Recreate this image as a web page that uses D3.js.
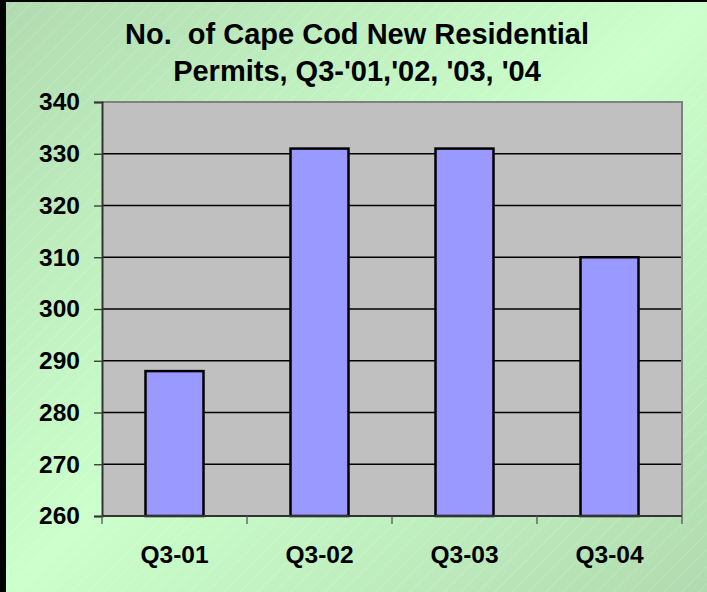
<!DOCTYPE html>
<html>
<head>
<meta charset="utf-8">
<script src="https://cdn.jsdelivr.net/npm/d3@7"></script>
<style>
  html, body { margin: 0; padding: 0; overflow: hidden; }
  svg { display: block; font-family: "Liberation Sans", Arial, sans-serif; }
</style>
</head>
<body>
<svg id="svg" width="707" height="592"></svg>
<script>
const categories = ["Q3-01", "Q3-02", "Q3-03", "Q3-04"];
const permits = [288, 331, 331, 310];
const yTicks = [260, 270, 280, 290, 300, 310, 320, 330, 340];
const titleLines = ["No.  of Cape Cod New Residential", "Permits, Q3-'01,'02, '03, '04"];

const width = 707;
const height = 592;
const plot = { left: 102, right: 682, top: 102, bottom: 516 };

const svg = d3.select("#svg");
const defs = svg.append("defs");

// background: diagonal light/dark green
const grad = defs.append("linearGradient")
  .attr("id", "bg")
  .attr("x1", 0).attr("y1", 0)
  .attr("x2", 1).attr("y2", 1);
grad.append("stop").attr("offset", 0).attr("stop-color", "#b0dbb0");
grad.append("stop").attr("offset", 0.5).attr("stop-color", "#ccffcc");
grad.append("stop").attr("offset", 1).attr("stop-color", "#b0dbb0");

const hatch = defs.append("pattern")
  .attr("id", "hatch")
  .attr("width", 12).attr("height", 12)
  .attr("patternUnits", "userSpaceOnUse")
  .attr("patternTransform", "rotate(45)");
hatch.append("line")
  .attr("x1", 0).attr("y1", 0).attr("x2", 0).attr("y2", 12)
  .attr("stroke", "#ffffff")
  .attr("stroke-opacity", 0.4)
  .attr("stroke-width", 0.8);

svg.append("rect").attr("width", width).attr("height", height).attr("fill", "url(#bg)");
svg.append("rect").attr("width", width).attr("height", height).attr("fill", "url(#hatch)");
svg.append("rect").attr("x", 0).attr("y", 0).attr("width", 6).attr("height", height).attr("fill", "#000");
svg.append("rect").attr("x", 0).attr("y", 0).attr("width", width).attr("height", 2).attr("fill", "#000");

const x = d3.scaleBand()
  .domain(categories)
  .range([plot.left, plot.right])
  .paddingInner(0.6)
  .paddingOuter(0.3);

const xEdge = d3.scaleLinear()
  .domain([0, categories.length])
  .range([plot.left, plot.right]);

const y = d3.scaleLinear()
  .domain([260, 340])
  .range([plot.bottom, plot.top]);

// plot area
svg.append("rect")
  .attr("x", plot.left).attr("y", plot.top)
  .attr("width", plot.right - plot.left)
  .attr("height", plot.bottom - plot.top)
  .attr("fill", "#c0c0c0");

// gridlines
svg.append("g")
  .selectAll("line")
  .data(yTicks.filter(t => t > 260 && t < 340))
  .join("line")
  .attr("x1", plot.left).attr("x2", plot.right)
  .attr("y1", d => y(d)).attr("y2", d => y(d))
  .attr("stroke", "#000")
  .attr("stroke-width", 1.3);

// plot border top / right
svg.append("path")
  .attr("d", `M${plot.left},${plot.top}H${plot.right}V${plot.bottom}`)
  .attr("fill", "none")
  .attr("stroke", "#808080")
  .attr("stroke-width", 2);

// bars
svg.append("g")
  .selectAll("rect")
  .data(permits)
  .join("rect")
  .attr("x", (d, i) => x(categories[i]))
  .attr("y", d => y(d))
  .attr("width", x.bandwidth())
  .attr("height", d => plot.bottom - y(d))
  .attr("fill", "#9999ff")
  .attr("stroke", "#000")
  .attr("stroke-width", 2.5);

// y axis
const yAxis = svg.append("g")
  .attr("transform", `translate(${plot.left},0)`)
  .call(d3.axisLeft(y).tickValues(yTicks).tickSize(8).tickPadding(14).tickFormat(d3.format("d")));
yAxis.select(".domain").attr("stroke", "#333").attr("stroke-width", 2);
yAxis.selectAll(".tick line").attr("stroke", "#333").attr("stroke-width", 1.3);
yAxis.selectAll(".tick text")
  .attr("font-family", "Liberation Sans, Arial, sans-serif")
  .attr("font-size", 24.5)
  .attr("font-weight", "bold")
  .attr("fill", "#000");

// x axis
svg.append("line")
  .attr("x1", plot.left).attr("x2", plot.right)
  .attr("y1", plot.bottom).attr("y2", plot.bottom)
  .attr("stroke", "#333").attr("stroke-width", 2);
svg.append("g")
  .selectAll("line")
  .data(d3.range(categories.length + 1))
  .join("line")
  .attr("x1", d => xEdge(d)).attr("x2", d => xEdge(d))
  .attr("y1", plot.bottom).attr("y2", plot.bottom + 8)
  .attr("stroke", "#555").attr("stroke-width", 1.3);
svg.append("g")
  .selectAll("text")
  .data(categories)
  .join("text")
  .attr("x", d => x(d) + x.bandwidth() / 2)
  .attr("y", 563)
  .attr("text-anchor", "middle")
  .attr("font-size", 24.5)
  .attr("font-weight", "bold")
  .attr("fill", "#000")
  .text(d => d);

// title
svg.append("g")
  .selectAll("text")
  .data(titleLines)
  .join("text")
  .attr("x", 357)
  .attr("y", (d, i) => 44 + i * 37)
  .attr("text-anchor", "middle")
  .attr("font-size", 29)
  .attr("font-weight", "bold")
  .attr("fill", "#000")
  .style("white-space", "pre")
  .text(d => d);
</script>
</body>
</html>
